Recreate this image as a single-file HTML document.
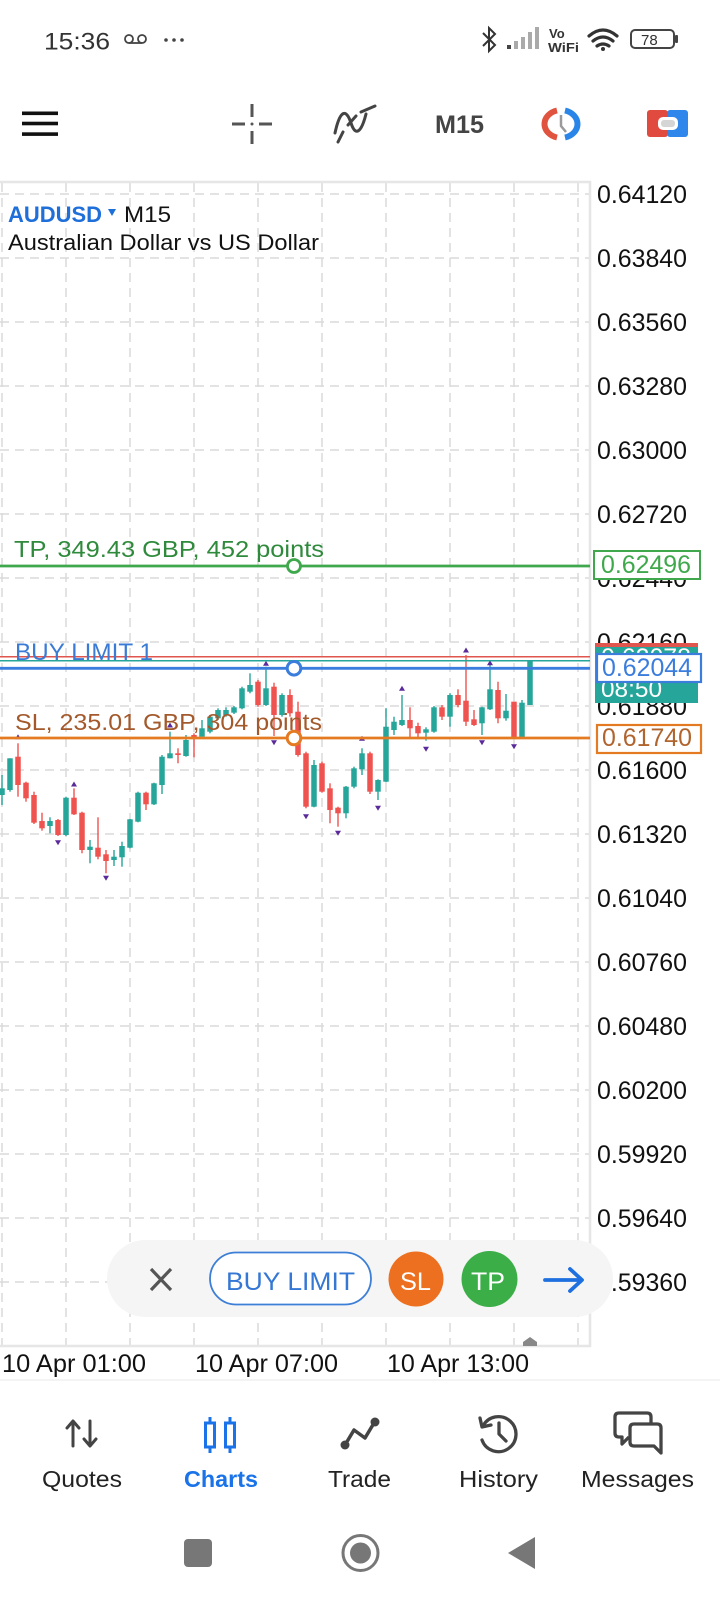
<!DOCTYPE html>
<html><head><meta charset="utf-8"><style>
html,body{margin:0;padding:0;background:#fff;width:720px;height:1600px;overflow:hidden}
svg{display:block}
text{font-family:"Liberation Sans",sans-serif}
</style></head><body>
<svg width="720" height="1600" viewBox="0 0 720 1600" xmlns="http://www.w3.org/2000/svg">
<rect width="720" height="1600" fill="#fff"/>

<!-- status bar -->
<text x="44" y="49.5" font-size="24" fill="#333" textLength="66" lengthAdjust="spacingAndGlyphs">15:36</text>
<g fill="none" stroke="#444" stroke-width="1.8">
<circle cx="129" cy="39" r="4"/><circle cx="142" cy="39" r="4"/><line x1="129" y1="43" x2="142" y2="43"/>
</g>
<g fill="#444"><circle cx="166" cy="40" r="1.8"/><circle cx="174" cy="40" r="1.8"/><circle cx="182" cy="40" r="1.8"/></g>
<path d="M483,33 L495,45 L489,51 L489,28 L495,34 L483,46" fill="none" stroke="#333" stroke-width="2"/>
<rect x="507" y="45" width="4" height="4" fill="#444"/>
<rect x="514" y="41" width="4" height="8" fill="#aaa"/>
<rect x="521" y="37" width="4" height="12" fill="#aaa"/>
<rect x="528" y="32" width="4" height="17" fill="#aaa"/>
<rect x="535" y="27" width="4" height="22" fill="#aaa"/>
<text x="549" y="38" font-size="13" font-weight="bold" fill="#333">Vo</text>
<text x="548" y="52" font-size="13" font-weight="bold" fill="#333" textLength="31" lengthAdjust="spacingAndGlyphs">WiFi</text>
<g fill="none" stroke="#333" stroke-width="3.2" stroke-linecap="round">
<path d="M589,36 Q603,24 617,36"/><path d="M593,41 Q603,33 613,41"/><path d="M597,46 Q603,42 609,46"/>
</g>
<circle cx="603" cy="49" r="2" fill="#333"/>
<rect x="631" y="30" width="43" height="18" rx="4" fill="none" stroke="#444" stroke-width="2"/>
<rect x="675" y="35" width="3" height="8" rx="1" fill="#444"/>
<text x="641" y="45" font-size="15" fill="#333">78</text>

<!-- toolbar -->
<rect x="22" y="111.5" width="36" height="3.6" fill="#111"/>
<rect x="22" y="121.7" width="36" height="3.6" fill="#111"/>
<rect x="22" y="132.3" width="36" height="3.6" fill="#111"/>
<g stroke="#555" stroke-width="3">
<line x1="252" y1="104" x2="252" y2="117"/><line x1="252" y1="131" x2="252" y2="144"/>
<line x1="232" y1="124" x2="245" y2="124"/><line x1="259" y1="124" x2="272" y2="124"/>
</g>
<circle cx="252" cy="124" r="1.5" fill="#555"/>
<g fill="none" stroke="#444" stroke-width="3" stroke-linecap="round">
<path d="M335,133 C340,110 346,108 351,123 C355,136 361,134 366,114"/>
<path d="M338,142 L343,132 M348,125 L356,116 M361,112 L375,106" />
</g>
<text x="435" y="133" font-size="25" font-weight="bold" fill="#444" textLength="49" lengthAdjust="spacingAndGlyphs">M15</text>
<g fill="none" stroke-width="6">
<path d="M557,110.5 A17,14 0 0 0 557,137.5" stroke="#e0533f"/>
<path d="M565,110.5 A17,14 0 0 1 565,137.5" stroke="#2a85e8"/>
</g>
<path d="M561,115 L561,126 L566,132" fill="none" stroke="#9a9a9a" stroke-width="2.5"/>
<rect x="647" y="110" width="21" height="27" rx="3" fill="#e04a3f"/>
<rect x="667" y="110" width="21" height="27" rx="3" fill="#2f86eb"/>
<rect x="658" y="117" width="20" height="13" rx="5" fill="#fff"/>
<rect x="661" y="120" width="14" height="7" rx="3" fill="#d5d5d5"/>

<!-- grid -->
<g stroke="#dadada" stroke-width="1.5" stroke-dasharray="9 6">
<line x1="0" y1="194" x2="590" y2="194"/><line x1="0" y1="258" x2="590" y2="258"/>
<line x1="0" y1="322" x2="590" y2="322"/><line x1="0" y1="386" x2="590" y2="386"/>
<line x1="0" y1="450" x2="590" y2="450"/><line x1="0" y1="514" x2="590" y2="514"/>
<line x1="0" y1="578" x2="590" y2="578"/><line x1="0" y1="642" x2="590" y2="642"/>
<line x1="0" y1="706" x2="590" y2="706"/><line x1="0" y1="770" x2="590" y2="770"/>
<line x1="0" y1="834" x2="590" y2="834"/><line x1="0" y1="898" x2="590" y2="898"/>
<line x1="0" y1="962" x2="590" y2="962"/><line x1="0" y1="1026" x2="590" y2="1026"/>
<line x1="0" y1="1090" x2="590" y2="1090"/><line x1="0" y1="1154" x2="590" y2="1154"/>
<line x1="0" y1="1218" x2="590" y2="1218"/><line x1="0" y1="1282" x2="590" y2="1282"/>
<line x1="2" y1="183" x2="2" y2="1346"/><line x1="66" y1="183" x2="66" y2="1346"/>
<line x1="130" y1="183" x2="130" y2="1346"/><line x1="194" y1="183" x2="194" y2="1346"/>
<line x1="258" y1="183" x2="258" y2="1346"/><line x1="322" y1="183" x2="322" y2="1346"/>
<line x1="386" y1="183" x2="386" y2="1346"/><line x1="450" y1="183" x2="450" y2="1346"/>
<line x1="514" y1="183" x2="514" y2="1346"/><line x1="578" y1="183" x2="578" y2="1346"/>
</g>
<g stroke="#e6e6e6" stroke-width="2.5">
<line x1="0" y1="182" x2="591" y2="182"/>
<line x1="590" y1="181" x2="590" y2="1347"/>
<line x1="0" y1="1346" x2="591" y2="1346"/>
</g>

<!-- axis labels -->
<g font-size="25" fill="#111">
<text x="597" y="203" textLength="90" lengthAdjust="spacingAndGlyphs">0.64120</text>
<text x="597" y="267" textLength="90" lengthAdjust="spacingAndGlyphs">0.63840</text>
<text x="597" y="331" textLength="90" lengthAdjust="spacingAndGlyphs">0.63560</text>
<text x="597" y="395" textLength="90" lengthAdjust="spacingAndGlyphs">0.63280</text>
<text x="597" y="459" textLength="90" lengthAdjust="spacingAndGlyphs">0.63000</text>
<text x="597" y="523" textLength="90" lengthAdjust="spacingAndGlyphs">0.62720</text>
<text x="597" y="587" textLength="90" lengthAdjust="spacingAndGlyphs">0.62440</text>
<text x="597" y="651" textLength="90" lengthAdjust="spacingAndGlyphs">0.62160</text>
<text x="597" y="715" textLength="90" lengthAdjust="spacingAndGlyphs">0.61880</text>
<text x="597" y="779" textLength="90" lengthAdjust="spacingAndGlyphs">0.61600</text>
<text x="597" y="843" textLength="90" lengthAdjust="spacingAndGlyphs">0.61320</text>
<text x="597" y="907" textLength="90" lengthAdjust="spacingAndGlyphs">0.61040</text>
<text x="597" y="971" textLength="90" lengthAdjust="spacingAndGlyphs">0.60760</text>
<text x="597" y="1035" textLength="90" lengthAdjust="spacingAndGlyphs">0.60480</text>
<text x="597" y="1099" textLength="90" lengthAdjust="spacingAndGlyphs">0.60200</text>
<text x="597" y="1163" textLength="90" lengthAdjust="spacingAndGlyphs">0.59920</text>
<text x="597" y="1227" textLength="90" lengthAdjust="spacingAndGlyphs">0.59640</text>
<text x="597" y="1291" textLength="90" lengthAdjust="spacingAndGlyphs">0.59360</text>
</g>

<!-- chart title -->
<text x="8" y="222" font-size="22" font-weight="bold" fill="#1e6fd9" textLength="94" lengthAdjust="spacingAndGlyphs">AUDUSD</text>
<polygon points="108,209 116,209 112,216" fill="#1e6fd9"/>
<text x="124" y="222" font-size="22" fill="#111" textLength="47" lengthAdjust="spacingAndGlyphs">M15</text>
<text x="8" y="250" font-size="22" fill="#111" textLength="311" lengthAdjust="spacingAndGlyphs">Australian Dollar vs US Dollar</text>

<!-- candles teal -->
<g fill="#26a69a">
<rect x="1.3" y="775" width="1.4" height="30"/><rect x="-0.75" y="788.3" width="5.5" height="6.7"/>
<rect x="9.3" y="758.3" width="1.4" height="33.4"/><rect x="7.25" y="758.3" width="5.5" height="31.7"/>
<rect x="49.3" y="817.3" width="1.4" height="16"/><rect x="47.25" y="821" width="5.5" height="5"/>
<rect x="65.3" y="796.7" width="1.4" height="39.3"/><rect x="63.25" y="797.7" width="5.5" height="37.3"/>
<rect x="89.3" y="840" width="1.4" height="23.3"/><rect x="87.25" y="846.7" width="5.5" height="3.3"/>
<rect x="113.3" y="850" width="1.4" height="16"/><rect x="111.25" y="856.7" width="5.5" height="3.3"/>
<rect x="121.3" y="841.7" width="1.4" height="25"/><rect x="119.25" y="846" width="5.5" height="11.3"/>
<rect x="129.3" y="819" width="1.4" height="29.3"/><rect x="127.25" y="819.3" width="5.5" height="28.4"/>
<rect x="137.3" y="791.7" width="1.4" height="30.6"/><rect x="135.25" y="792.7" width="5.5" height="29"/>
<rect x="153.3" y="782.7" width="1.4" height="22.3"/><rect x="151.25" y="783.3" width="5.5" height="21"/>
<rect x="161.3" y="755" width="1.4" height="39"/><rect x="159.25" y="756.7" width="5.5" height="28.3"/>
<rect x="169.3" y="731.7" width="1.4" height="26.6"/><rect x="167.25" y="753.3" width="5.5" height="5"/>
<rect x="185.3" y="735" width="1.4" height="21.7"/><rect x="183.25" y="740" width="5.5" height="16"/>
<rect x="201.3" y="720" width="1.4" height="16.7"/><rect x="199.25" y="728.3" width="5.5" height="8.4"/>
<rect x="209.3" y="715" width="1.4" height="18.3"/><rect x="207.25" y="716.7" width="5.5" height="15"/>
<rect x="217.3" y="708.3" width="1.4" height="11.7"/><rect x="215.25" y="710" width="5.5" height="8.3"/>
<rect x="225.3" y="707.3" width="1.4" height="9.4"/><rect x="223.25" y="710" width="5.5" height="5"/>
<rect x="233.3" y="706" width="1.4" height="8"/><rect x="231.25" y="707.3" width="5.5" height="5.4"/>
<rect x="241.3" y="686.7" width="1.4" height="22.6"/><rect x="239.25" y="688.3" width="5.5" height="20"/>
<rect x="249.3" y="673.3" width="1.4" height="20"/><rect x="247.25" y="685" width="5.5" height="6.7"/>
<rect x="265.3" y="666.7" width="1.4" height="39.3"/><rect x="263.25" y="688.3" width="5.5" height="16.7"/>
<rect x="281.3" y="693.3" width="1.4" height="23.4"/><rect x="279.25" y="695" width="5.5" height="20"/>
<rect x="313.3" y="760" width="1.4" height="47.3"/><rect x="311.25" y="765" width="5.5" height="41.7"/>
<rect x="345.3" y="786" width="1.4" height="32.3"/><rect x="343.25" y="786.7" width="5.5" height="26.6"/>
<rect x="353.3" y="766.7" width="1.4" height="21.6"/><rect x="351.25" y="768.3" width="5.5" height="18.4"/>
<rect x="361.3" y="748.3" width="1.4" height="26.7"/><rect x="359.25" y="753.3" width="5.5" height="16"/>
<rect x="377.3" y="779.3" width="1.4" height="20.7"/><rect x="375.25" y="780" width="5.5" height="11.7"/>
<rect x="385.3" y="708.3" width="1.4" height="74"/><rect x="383.25" y="726.7" width="5.5" height="55"/>
<rect x="393.3" y="716.7" width="1.4" height="18.3"/><rect x="391.25" y="721.7" width="5.5" height="8.3"/>
<rect x="401.3" y="695" width="1.4" height="31"/><rect x="399.25" y="720" width="5.5" height="5"/>
<rect x="425.3" y="727.3" width="1.4" height="13.4"/><rect x="423.25" y="729.3" width="5.5" height="3.4"/>
<rect x="433.3" y="706" width="1.4" height="26.7"/><rect x="431.25" y="707.3" width="5.5" height="24.4"/>
<rect x="449.3" y="693.3" width="1.4" height="33.4"/><rect x="447.25" y="695" width="5.5" height="21.7"/>
<rect x="481.3" y="706.7" width="1.4" height="28.3"/><rect x="479.25" y="707.3" width="5.5" height="16"/>
<rect x="489.3" y="665" width="1.4" height="45"/><rect x="487.25" y="689.3" width="5.5" height="20"/>
<rect x="505.3" y="694" width="1.4" height="26.7"/><rect x="503.25" y="710.7" width="5.5" height="7.6"/>
<rect x="521.3" y="700" width="1.4" height="38.3"/><rect x="519.25" y="702.7" width="5.5" height="34.6"/>
<rect x="527.25" y="660.7" width="5.5" height="44.3"/>
</g>
<!-- candles red -->
<g fill="#ef5350">
<rect x="17.3" y="743.3" width="1.4" height="53.4"/><rect x="15.25" y="756.7" width="5.5" height="28.3"/>
<rect x="25.3" y="781.7" width="1.4" height="20"/><rect x="23.25" y="782.7" width="5.5" height="15.6"/>
<rect x="33.3" y="791.7" width="1.4" height="32.3"/><rect x="31.25" y="795" width="5.5" height="27.7"/>
<rect x="41.3" y="812.7" width="1.4" height="18"/><rect x="39.25" y="821" width="5.5" height="7.3"/>
<rect x="57.3" y="819" width="1.4" height="17"/><rect x="55.25" y="820" width="5.5" height="15"/>
<rect x="73.3" y="788.3" width="1.4" height="26.7"/><rect x="71.25" y="797.7" width="5.5" height="16.6"/>
<rect x="81.3" y="811.7" width="1.4" height="41.6"/><rect x="79.25" y="812.7" width="5.5" height="37.3"/>
<rect x="97.3" y="817.3" width="1.4" height="42"/><rect x="95.25" y="847.7" width="5.5" height="9"/>
<rect x="105.3" y="850" width="1.4" height="23.3"/><rect x="103.25" y="854.3" width="5.5" height="6.7"/>
<rect x="145.3" y="791.7" width="1.4" height="18.3"/><rect x="143.25" y="792.7" width="5.5" height="11.6"/>
<rect x="177.3" y="748.3" width="1.4" height="15"/><rect x="175.25" y="753.3" width="5.5" height="1.7"/>
<rect x="193.3" y="733.3" width="1.4" height="24"/><rect x="191.25" y="735" width="5.5" height="3.3"/>
<rect x="257.3" y="680" width="1.4" height="26.7"/><rect x="255.25" y="681.7" width="5.5" height="23.3"/>
<rect x="273.3" y="682.7" width="1.4" height="53.3"/><rect x="271.25" y="686.7" width="5.5" height="28.3"/>
<rect x="289.3" y="689.3" width="1.4" height="27.4"/><rect x="287.25" y="695" width="5.5" height="18.3"/>
<rect x="297.3" y="701.7" width="1.4" height="55"/><rect x="295.25" y="711.7" width="5.5" height="43.3"/>
<rect x="305.3" y="751.7" width="1.4" height="56.6"/><rect x="303.25" y="753.3" width="5.5" height="53.4"/>
<rect x="321.3" y="761.7" width="1.4" height="31"/><rect x="319.25" y="763.3" width="5.5" height="28.4"/>
<rect x="329.3" y="783.3" width="1.4" height="40"/><rect x="327.25" y="788.3" width="5.5" height="21.7"/>
<rect x="337.3" y="806.7" width="1.4" height="20"/><rect x="335.25" y="807.7" width="5.5" height="5.6"/>
<rect x="369.3" y="751.7" width="1.4" height="42.3"/><rect x="367.25" y="753.3" width="5.5" height="38.4"/>
<rect x="409.3" y="707.3" width="1.4" height="31"/><rect x="407.25" y="720" width="5.5" height="8.3"/>
<rect x="417.3" y="722.7" width="1.4" height="14.6"/><rect x="415.25" y="726" width="5.5" height="7.3"/>
<rect x="441.3" y="705" width="1.4" height="15"/><rect x="439.25" y="707.3" width="5.5" height="9.4"/>
<rect x="457.3" y="689.3" width="1.4" height="18"/><rect x="455.25" y="695" width="5.5" height="10"/>
<rect x="465.3" y="655" width="1.4" height="71"/><rect x="463.25" y="700.7" width="5.5" height="21"/>
<rect x="473.3" y="710" width="1.4" height="16"/><rect x="471.25" y="719.3" width="5.5" height="5.7"/>
<rect x="497.3" y="681.7" width="1.4" height="41.6"/><rect x="495.25" y="690" width="5.5" height="28.3"/>
<rect x="511.25" y="701.7" width="5.5" height="36.6"/>
</g>
<!-- fractal markers -->
<g fill="#5a2a9a">
<polygon points="15,739.2 21,739.2 18,734.2"/>
<polygon points="71,786.5 77,786.5 74,781.5"/>
<polygon points="167,727.5 173,727.5 170,722.5"/>
<polygon points="263,665.8 269,665.8 266,660.8"/>
<polygon points="359,740.8 365,740.8 362,735.8"/>
<polygon points="399,690.8 405,690.8 402,685.8"/>
<polygon points="463,652.5 469,652.5 466,647.5"/>
<polygon points="487,665.2 493,665.2 490,660.2"/>
<polygon points="55,840.2 61,840.2 58,845.2"/>
<polygon points="103,875.8 109,875.8 106,880.8"/>
<polygon points="271,740.2 277,740.2 274,745.2"/>
<polygon points="303,814.2 309,814.2 306,819.2"/>
<polygon points="335,830.8 341,830.8 338,835.8"/>
<polygon points="375,805.8 381,805.8 378,810.8"/>
<polygon points="423,746.8 429,746.8 426,751.8"/>
<polygon points="479,740.2 485,740.2 482,745.2"/>
<polygon points="511,744.2 517,744.2 514,749.2"/>
</g>

<!-- price lines -->
<line x1="0" y1="566" x2="590" y2="566" stroke="#3fa84c" stroke-width="2.8"/>
<line x1="0" y1="656.7" x2="590" y2="656.7" stroke="#e0554e" stroke-width="1.5"/>
<line x1="0" y1="660.7" x2="590" y2="660.7" stroke="#26a69a" stroke-width="1.5"/>
<line x1="0" y1="668.3" x2="590" y2="668.3" stroke="#3b7ddd" stroke-width="2.8"/>
<line x1="0" y1="738" x2="590" y2="738" stroke="#e47b22" stroke-width="2.8"/>

<!-- line texts -->
<text x="14" y="557" font-size="23" fill="#2f8a3c" textLength="310" lengthAdjust="spacingAndGlyphs">TP, 349.43 GBP, 452 points</text>
<text x="15" y="660" font-size="24" fill="#3a7bd5" textLength="138" lengthAdjust="spacingAndGlyphs">BUY LIMIT 1</text>
<text x="15" y="730" font-size="23" fill="#a3592b" textLength="307" lengthAdjust="spacingAndGlyphs">SL, 235.01 GBP, 304 points</text>

<circle cx="294" cy="566" r="6.5" fill="#fff" stroke="#3fa84c" stroke-width="2.8"/>
<circle cx="294" cy="668.3" r="6.8" fill="#fff" stroke="#3b7ddd" stroke-width="3"/>
<circle cx="294" cy="738" r="6.8" fill="#fff" stroke="#e47b22" stroke-width="3"/>

<!-- right labels -->
<rect x="594" y="551" width="106" height="28" fill="#fff" stroke="#3fa84c" stroke-width="2"/>
<text x="601" y="573" font-size="25" fill="#3fa84c" textLength="90" lengthAdjust="spacingAndGlyphs">0.62496</text>
<rect x="595" y="643" width="103" height="28" fill="#e0554e"/>
<rect x="595" y="647" width="103" height="56" fill="#26a69a"/>
<text x="601" y="666" font-size="25" fill="#fff" textLength="90" lengthAdjust="spacingAndGlyphs">0.62078</text>
<text x="601" y="697" font-size="24" fill="#fff" textLength="61" lengthAdjust="spacingAndGlyphs">08:50</text>
<rect x="597" y="654" width="104" height="28" fill="#fff" stroke="#3b7ddd" stroke-width="2.2"/>
<text x="602" y="676" font-size="25" fill="#3b7ddd" textLength="90" lengthAdjust="spacingAndGlyphs">0.62044</text>
<rect x="597" y="725" width="104" height="28" fill="#fff" stroke="#e47b22" stroke-width="2.2"/>
<text x="602" y="746" font-size="25" fill="#b0642e" textLength="90" lengthAdjust="spacingAndGlyphs">0.61740</text>

<!-- bottom floating pill -->
<rect x="107" y="1240" width="506" height="77" rx="38.5" fill="#f5f5f5"/>
<g stroke="#555" stroke-width="3.2">
<line x1="151" y1="1269" x2="171" y2="1290"/><line x1="171" y1="1269" x2="151" y2="1290"/>
</g>
<rect x="210" y="1252.5" width="161" height="52" rx="26" fill="#fff" stroke="#3d7fd6" stroke-width="1.8"/>
<text x="226" y="1290" font-size="25" fill="#3577d4" textLength="129" lengthAdjust="spacingAndGlyphs">BUY LIMIT</text>
<circle cx="416" cy="1279" r="27.5" fill="#ec7020"/>
<text x="400" y="1290" font-size="25" fill="#fff" textLength="31" lengthAdjust="spacingAndGlyphs">SL</text>
<circle cx="489.5" cy="1279" r="28" fill="#3cae48"/>
<text x="471" y="1290" font-size="25" fill="#fff" textLength="34" lengthAdjust="spacingAndGlyphs">TP</text>
<g stroke="#1e6fe0" stroke-width="3.8" fill="none" stroke-linecap="round" stroke-linejoin="round">
<line x1="545" y1="1280" x2="581" y2="1280"/><path d="M570,1269 L582,1280 L570,1291"/>
</g>

<!-- current candle marker -->
<path d="M523,1346 L523,1342 L530,1337 L537,1342 L537,1346 Z" fill="#888"/>

<!-- time labels -->
<g font-size="25" fill="#111">
<text x="2" y="1372" textLength="144" lengthAdjust="spacingAndGlyphs">10 Apr 01:00</text>
<text x="195" y="1372" textLength="143" lengthAdjust="spacingAndGlyphs">10 Apr 07:00</text>
<text x="387" y="1372" textLength="142" lengthAdjust="spacingAndGlyphs">10 Apr 13:00</text>
</g>
<line x1="0" y1="1380" x2="720" y2="1380" stroke="#f1f1f1" stroke-width="1.5"/>

<!-- bottom nav icons -->
<g fill="none" stroke="#444" stroke-width="3" stroke-linecap="round" stroke-linejoin="round">
<line x1="73" y1="1422" x2="73" y2="1446"/><path d="M67,1428 L73,1421 L79,1428"/>
<line x1="90" y1="1421" x2="90" y2="1445"/><path d="M84,1439 L90,1446 L96,1439"/>
</g>
<g fill="#fff" stroke="#1a73e8" stroke-width="3">
<line x1="210" y1="1417" x2="210" y2="1453"/><rect x="205.5" y="1423" width="9" height="24"/>
<line x1="230" y1="1417" x2="230" y2="1453"/><rect x="225.5" y="1423" width="9" height="24"/>
</g>
<g stroke="#444" stroke-width="3.5" fill="none" stroke-linejoin="round">
<path d="M345,1445 L354,1430 L365,1438 L374,1423"/>
</g>
<g fill="#444"><circle cx="345" cy="1445" r="4.5"/><circle cx="375" cy="1422" r="4.5"/></g>
<g fill="none" stroke="#444" stroke-width="3.3" stroke-linecap="round" stroke-linejoin="round">
<path d="M483,1426 A17.5,17.5 0 1 1 482,1440"/>
<path d="M480,1418 L482,1427 L491,1425"/>
<path d="M499,1423 L499,1434 L506,1441"/>
</g>
<g fill="none" stroke="#444" stroke-width="3.3" stroke-linejoin="round">
<path d="M619,1413 L647,1413 Q651,1413 651,1417 L651,1424 M629,1437 L622,1444 L622,1437 L619,1437 Q615,1437 615,1433 L615,1417 Q615,1413 619,1413"/>
<path d="M634,1424 L657,1424 Q661,1424 661,1428 L661,1453 L654,1446 L634,1446 Q630,1446 630,1442 L630,1428 Q630,1424 634,1424 Z" fill="#fff"/>
</g>
<g font-size="23" fill="#222">
<text x="42" y="1487" textLength="80" lengthAdjust="spacingAndGlyphs">Quotes</text>
<text x="184" y="1487" font-weight="bold" fill="#1a73e8" textLength="74" lengthAdjust="spacingAndGlyphs">Charts</text>
<text x="328" y="1487" textLength="63" lengthAdjust="spacingAndGlyphs">Trade</text>
<text x="459" y="1487" textLength="79" lengthAdjust="spacingAndGlyphs">History</text>
<text x="581" y="1487" textLength="113" lengthAdjust="spacingAndGlyphs">Messages</text>
</g>

<!-- system nav -->
<rect x="184" y="1539" width="28" height="28" rx="4" fill="#777"/>
<circle cx="360.5" cy="1553" r="17.5" fill="none" stroke="#777" stroke-width="3"/>
<circle cx="360.5" cy="1553" r="10.5" fill="#777"/>
<polygon points="535,1537 535,1569 508,1553" fill="#777"/>
</svg>
</body></html>
